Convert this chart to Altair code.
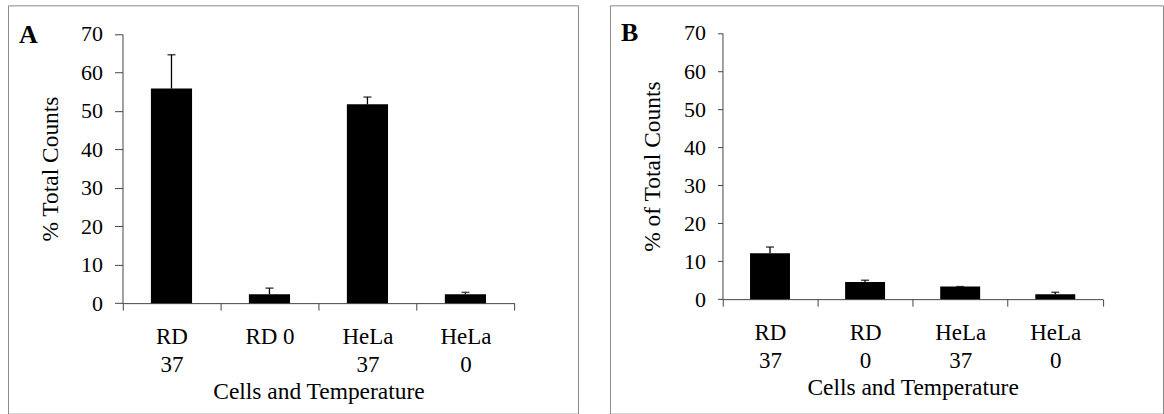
import altair as alt
import pandas as pd

# ---- data ----
categories_a = ["RD|37", "RD 0", "HeLa|37", "HeLa|0"]
values_a = [55.8, 2.3, 51.7, 2.3]
errors_a = [8.8, 1.6, 1.9, 0.5]

categories_b = ["RD|37", "RD|0", "HeLa|37", "HeLa|0"]
values_b = [12.1, 4.5, 3.3, 1.3]
errors_b = [1.6, 0.5, 0.0, 0.5]

y_ticks = [0, 10, 20, 30, 40, 50, 60, 70]

FONT = "Liberation Serif"
AXIS_COLOR = "#444444"


def panel(cats, vals, errs, letter, ytitle, geom):
    df = pd.DataFrame({
        "cat": cats,
        "val": vals,
        "top": [v + e for v, e in zip(vals, errs)],
    })
    xs = alt.Scale(domain=cats, range=[geom["x0"], geom["x1"]],
                   paddingInner=0, paddingOuter=0)
    ys = alt.Scale(domain=[0, 70], range=[geom["y0"], geom["y1"]], nice=False)
    xaxis = alt.Axis(
        title="Cells and Temperature", orient="bottom", offset=geom["xoff"],
        tickBand="extent", labelExpr="split(datum.label, '|')", labelAngle=0,
        labelFont=FONT, labelFontSize=23, labelColor="black",
        labelLineHeight=28, labelPadding=15, labelBaseline="top",
        tickSize=7, tickColor=AXIS_COLOR, domainColor=AXIS_COLOR,
        titleFont=FONT, titleFontSize=23.5, titleFontWeight="normal",
        titleColor="black", titleY=96, titleBaseline="alphabetic", grid=False,
    )
    yaxis = alt.Axis(
        title=ytitle, orient="left", offset=geom["yoff"], values=y_ticks,
        labelFont=FONT, labelFontSize=22, labelColor="black",
        labelPadding=geom["lpad"], tickSize=geom["tick"], tickColor=AXIS_COLOR,
        domainColor=AXIS_COLOR, titleFont=FONT, titleFontSize=23.5,
        titleFontWeight="normal", titleColor="black", titleX=geom["tx"],
        titleBaseline="middle", grid=False,
    )
    x = alt.X("cat:N", sort=cats, scale=xs, axis=xaxis)
    base = alt.Chart(df)
    bars = base.mark_bar(color="black", width=alt.RelativeBandSize(0.42)).encode(
        x=x, y=alt.Y("val:Q", scale=ys, axis=yaxis))
    rule = base.mark_rule(color="black", strokeWidth=1.3).encode(
        x=x, y=alt.Y("val:Q", scale=ys, axis=yaxis), y2="top:Q")
    cap = base.mark_tick(color="black", size=8, thickness=1.5,
                         orient="horizontal").encode(
        x=x, y=alt.Y("top:Q", scale=ys, axis=yaxis))
    lab = alt.Chart(pd.DataFrame({"t": [letter]})).mark_text(
        font=FONT, fontSize=26, fontWeight="bold", align="left",
        baseline="alphabetic", color="black").encode(
        text="t:N", x=alt.value(11), y=alt.value(geom["ly"]))
    return alt.layer(bars, rule, cap, lab).properties(
        width=geom["w"], height=409)


geom_a = dict(w=571, x0=114.7, x1=507.3, y0=298.3, y1=28.7,
              yoff=-114.7, xoff=-110.7, tx=-72, lpad=12, tick=8, ly=38)
geom_b = dict(w=554, x0=112.7, x1=493.7, y0=294.3, y1=27.7,
              yoff=-112.7, xoff=-114.7, tx=-70, lpad=12, tick=5, ly=36)

chart_a = panel(categories_a, values_a, errors_a, "A", "% Total Counts", geom_a)
chart_b = panel(categories_b, values_b, errors_b, "B", "% of Total Counts", geom_b)

chart = alt.hconcat(chart_a, chart_b, spacing=30).properties(
    padding={"left": 7, "top": 4, "right": 0, "bottom": 0},
    background="white",
).configure_view(stroke="#8a8a8a", strokeWidth=1)

chart.save("out.html", embed_options={"renderer": "svg", "actions": False})
